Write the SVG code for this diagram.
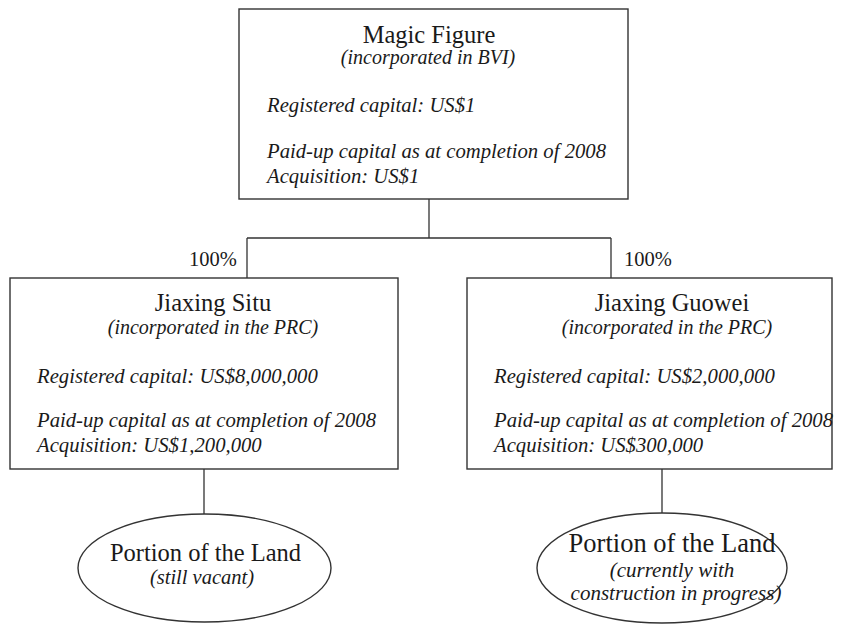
<svg xmlns="http://www.w3.org/2000/svg" width="844" height="624" viewBox="0 0 844 624">
<style>
text{font-family:"Liberation Serif","Times New Roman",serif;fill:#1a1a1a}
.t{font-size:24.5px;text-anchor:middle}
.s{font-size:20px;font-style:italic;text-anchor:middle}
.d{font-size:20.7px;font-style:italic}
.p{font-size:20.5px}
.box{fill:#fff;stroke:#333;stroke-width:1.4}
.ln{fill:none;stroke:#333;stroke-width:1.3}
</style>
<rect width="844" height="624" fill="#fff"/>
<g id="connectors">
<path class="ln" d="M429 199V238M247 238H611M247 238V278M611 238V278M204 469V514M662 469V513"/>
</g>
<g id="label-left"><text class="p" x="189" y="266">100%</text></g>
<g id="label-right"><text class="p" x="624" y="266">100%</text></g>
<g id="magic-figure">
<rect class="box" x="239" y="9" width="389" height="190"/>
<text class="t" x="429" y="43">Magic Figure</text>
<text class="s" x="428" y="64">(incorporated in BVI)</text>
<text class="d" x="267" y="112">Registered capital: US$1</text>
<text class="d" x="267" y="158">Paid-up capital as at completion of 2008</text>
<text class="d" x="267" y="183">Acquisition: US$1</text>
</g>
<g id="jiaxing-situ">
<rect class="box" x="10" y="278" width="388" height="191"/>
<text class="t" x="213" y="311">Jiaxing Situ</text>
<text class="s" x="213" y="334">(incorporated in the PRC)</text>
<text class="d" x="37" y="383">Registered capital: US$8,000,000</text>
<text class="d" x="37" y="427">Paid-up capital as at completion of 2008</text>
<text class="d" x="37" y="452">Acquisition: US$1,200,000</text>
</g>
<g id="jiaxing-guowei">
<rect class="box" x="467" y="278" width="365" height="191"/>
<text class="t" x="672" y="311">Jiaxing Guowei</text>
<text class="s" x="667" y="334">(incorporated in the PRC)</text>
<text class="d" x="494" y="383">Registered capital: US$2,000,000</text>
<text class="d" x="494" y="427">Paid-up capital as at completion of 2008</text>
<text class="d" x="494" y="452">Acquisition: US$300,000</text>
</g>
<g id="land-left">
<ellipse class="box" cx="204.5" cy="568" rx="126.5" ry="54"/>
<text class="t" x="205.5" y="561">Portion of the Land</text>
<text class="s" x="202" y="584" style="font-size:20.5px">(still vacant)</text>
</g>
<g id="land-right">
<ellipse class="box" cx="662" cy="568" rx="125" ry="55"/>
<text class="t" x="672" y="552" style="font-size:26.5px">Portion of the Land</text>
<text class="s" x="672" y="577" style="font-size:21px">(currently with</text>
<text class="s" x="676" y="600" style="font-size:21px">construction in progress)</text>
</g>
</svg>
